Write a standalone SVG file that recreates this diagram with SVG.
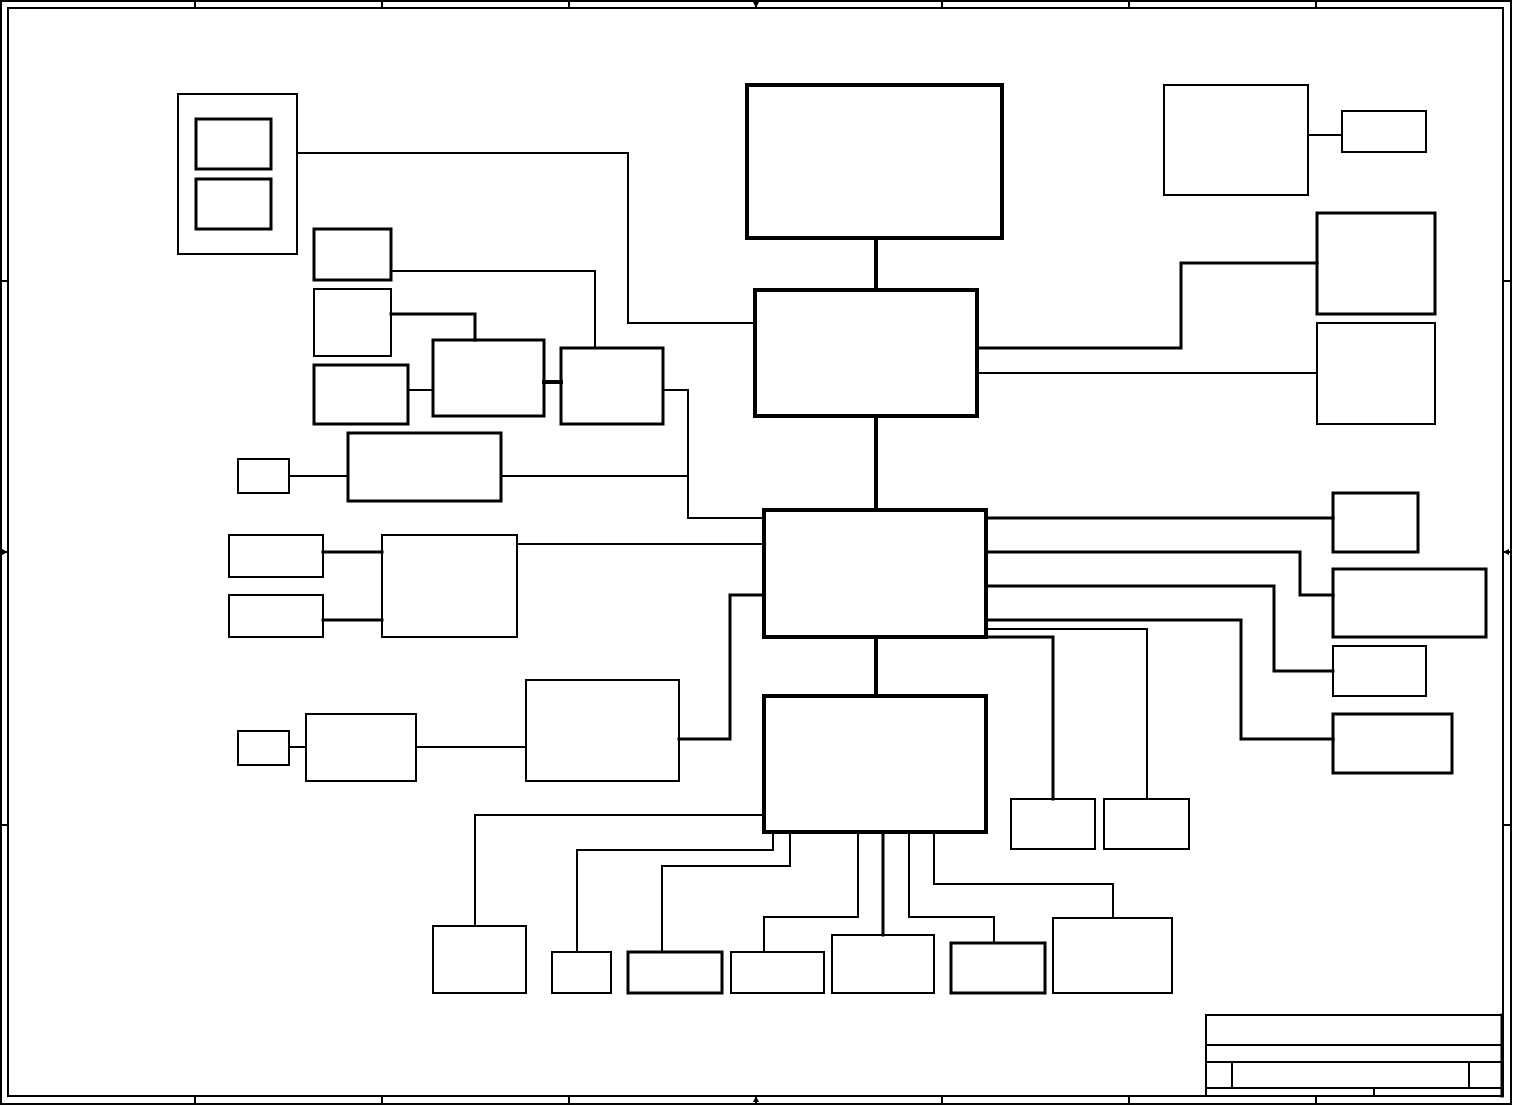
<svg xmlns="http://www.w3.org/2000/svg" width="1513" height="1106" viewBox="0 0 1513 1106">
<style>
rect{fill:none;stroke:#000}
line,polyline{fill:none;stroke:#000;stroke-linecap:square}
.s2{stroke-width:2}.s3{stroke-width:3}.s4{stroke-width:4}
</style>
<defs>
<marker id="ah" markerWidth="6" markerHeight="6" refX="5" refY="3" orient="auto" markerUnits="userSpaceOnUse"><path d="M0,0 L6,3 L0,6 z" fill="#000"/></marker>
</defs>
<rect width="1513" height="1106" style="fill:#fff;stroke:none"/>
<g id="frame">
<rect class="s2" x="1" y="1" width="1510" height="1103"/>
<rect class="s2" x="8" y="8" width="1495" height="1088"/>
<g class="s2">
<line x1="195" y1="1" x2="195" y2="8"/><line x1="382" y1="1" x2="382" y2="8"/><line x1="569" y1="1" x2="569" y2="8"/><line x1="942" y1="1" x2="942" y2="8"/><line x1="1129" y1="1" x2="1129" y2="8"/><line x1="1316" y1="1" x2="1316" y2="8"/>
<line x1="195" y1="1096" x2="195" y2="1104"/><line x1="382" y1="1096" x2="382" y2="1104"/><line x1="569" y1="1096" x2="569" y2="1104"/><line x1="942" y1="1096" x2="942" y2="1104"/><line x1="1129" y1="1096" x2="1129" y2="1104"/><line x1="1316" y1="1096" x2="1316" y2="1104"/>
<line x1="1" y1="281" x2="8" y2="281"/><line x1="1" y1="825" x2="8" y2="825"/>
<line x1="1503" y1="281" x2="1511" y2="281"/><line x1="1503" y1="825" x2="1511" y2="825"/>
<line x1="756" y1="1" x2="756" y2="7" marker-end="url(#ah)"/>
<line x1="756" y1="1104" x2="756" y2="1097" marker-end="url(#ah)"/>
<line x1="1" y1="552" x2="7" y2="552" marker-end="url(#ah)"/>
<line x1="1511" y1="552" x2="1504" y2="552" marker-end="url(#ah)"/>
</g>
</g>
<g id="title-block" class="s2">
<rect x="1206" y="1015" width="297" height="81"/>
<line x1="1206" y1="1045" x2="1503" y2="1045"/>
<line x1="1206" y1="1062" x2="1503" y2="1062"/>
<line x1="1206" y1="1088" x2="1503" y2="1088"/>
<line x1="1232" y1="1062" x2="1232" y2="1088"/>
<line x1="1469" y1="1062" x2="1469" y2="1088"/>
<line x1="1374" y1="1088" x2="1374" y2="1096"/>
<line x1="1502" y1="1015" x2="1502" y2="1096" style="stroke-width:3"/>
</g>
<g id="connectors">
<polyline class="s4" points="876,238 876,290"/>
<polyline class="s4" points="876,416 876,510"/>
<polyline class="s4" points="876,637 876,696"/>
<polyline class="s2" points="297,153 628,153 628,323 755,323"/>
<polyline class="s2" points="391,271 595,271 595,348"/>
<polyline class="s3" points="391,314 475,314 475,340"/>
<polyline class="s2" points="408,390 433,390"/>
<polyline class="s4" points="544,382 561,382"/>
<polyline class="s2" points="663,390 688,390 688,518 764,518"/>
<polyline class="s2" points="501,476 688,476"/>
<polyline class="s2" points="289,476 348,476"/>
<polyline class="s2" points="1308,135 1342,135"/>
<polyline class="s3" points="977,348 1181,348 1181,263 1317,263"/>
<polyline class="s2" points="977,373 1317,373"/>
<polyline class="s2" points="517,544 764,544"/>
<polyline class="s3" points="323,552 382,552"/>
<polyline class="s3" points="323,620 382,620"/>
<polyline class="s2" points="289,747 306,747"/>
<polyline class="s2" points="416,747 526,747"/>
<polyline class="s3" points="679,739 730,739 730,595 764,595"/>
<polyline class="s3" points="986,518 1333,518"/>
<polyline class="s3" points="986,552 1300,552 1300,595 1333,595"/>
<polyline class="s3" points="986,586 1274,586 1274,671 1333,671"/>
<polyline class="s3" points="986,620 1241,620 1241,739 1333,739"/>
<polyline class="s2" points="986,629 1147,629 1147,799"/>
<polyline class="s3" points="986,637 1053,637 1053,799"/>
<polyline class="s2" points="764,815 475,815 475,926"/>
<polyline class="s2" points="773,832 773,850 577,850 577,952"/>
<polyline class="s2" points="790,832 790,866 662,866 662,952"/>
<polyline class="s2" points="858,832 858,917 764,917 764,952"/>
<polyline class="s3" points="883,832 883,935"/>
<polyline class="s2" points="909,832 909,917 994,917 994,943"/>
<polyline class="s2" points="934,832 934,884 1113,884 1113,918"/>
</g>
<g id="n-left-group"><rect class="s2" x="178" y="94" width="119" height="160"/><rect class="s3" x="196" y="119" width="75" height="50"/><rect class="s3" x="196" y="179" width="75" height="50"/></g>
<g id="n-cpu"><rect class="s4" x="747" y="85" width="255" height="153"/></g>
<g id="n-tr1"><rect class="s2" x="1164" y="85" width="144" height="110"/></g>
<g id="n-tr2"><rect class="s2" x="1342" y="111" width="84" height="41"/></g>
<g id="n-r1"><rect class="s3" x="1317" y="213" width="118" height="101"/></g>
<g id="n-r2"><rect class="s2" x="1317" y="323" width="118" height="101"/></g>
<g id="n-nb"><rect class="s4" x="755" y="290" width="222" height="126"/></g>
<g id="n-sb"><rect class="s4" x="764" y="510" width="222" height="127"/></g>
<g id="n-bottom"><rect class="s4" x="764" y="696" width="222" height="136"/></g>
<g id="n-l1"><rect class="s3" x="314" y="229" width="77" height="51"/></g>
<g id="n-l2"><rect class="s2" x="314" y="289" width="77" height="67"/></g>
<g id="n-l3"><rect class="s3" x="314" y="365" width="94" height="59"/></g>
<g id="n-l4"><rect class="s3" x="433" y="340" width="111" height="76"/></g>
<g id="n-l5"><rect class="s3" x="561" y="348" width="102" height="76"/></g>
<g id="n-l6"><rect class="s3" x="348" y="433" width="153" height="68"/></g>
<g id="n-l7"><rect class="s2" x="238" y="459" width="51" height="34"/></g>
<g id="n-l8"><rect class="s2" x="229" y="535" width="94" height="42"/></g>
<g id="n-l9"><rect class="s2" x="229" y="595" width="94" height="42"/></g>
<g id="n-l10"><rect class="s2" x="382" y="535" width="135" height="102"/></g>
<g id="n-l11"><rect class="s2" x="238" y="731" width="51" height="34"/></g>
<g id="n-l12"><rect class="s2" x="306" y="714" width="110" height="67"/></g>
<g id="n-l13"><rect class="s2" x="526" y="680" width="153" height="101"/></g>
<g id="n-r3"><rect class="s3" x="1333" y="493" width="85" height="59"/></g>
<g id="n-r4"><rect class="s3" x="1333" y="569" width="153" height="68"/></g>
<g id="n-r5"><rect class="s2" x="1333" y="646" width="93" height="50"/></g>
<g id="n-r6"><rect class="s3" x="1333" y="714" width="119" height="59"/></g>
<g id="n-m1"><rect class="s2" x="1011" y="799" width="84" height="50"/></g>
<g id="n-m2"><rect class="s2" x="1104" y="799" width="85" height="50"/></g>
<g id="n-b1"><rect class="s2" x="433" y="926" width="93" height="67"/></g>
<g id="n-b2"><rect class="s2" x="552" y="952" width="59" height="41"/></g>
<g id="n-b3"><rect class="s3" x="628" y="952" width="94" height="41"/></g>
<g id="n-b4"><rect class="s2" x="731" y="952" width="93" height="41"/></g>
<g id="n-b5"><rect class="s2" x="832" y="935" width="102" height="58"/></g>
<g id="n-b6"><rect class="s3" x="951" y="943" width="94" height="50"/></g>
<g id="n-b7"><rect class="s2" x="1053" y="918" width="119" height="75"/></g>
</svg>
